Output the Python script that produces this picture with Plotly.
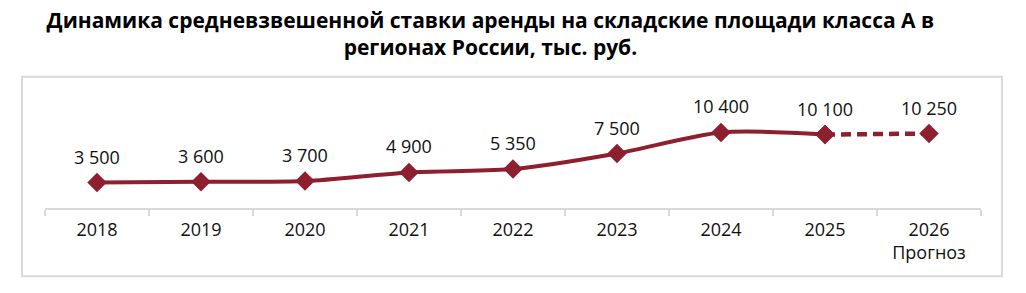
import plotly.graph_objects as go

years = ["2018", "2019", "2020", "2021", "2022", "2023", "2024", "2025", "2026<br>Прогноз"]
values = [3500, 3600, 3700, 4900, 5350, 7500, 10400, 10100, 10250]
labels = ["3 500", "3 600", "3 700", "4 900", "5 350", "7 500", "10 400", "10 100", "10 250"]

color = "#8E1F2F"
font = "Open Sans"

fig = go.Figure()
fig.add_trace(go.Scatter(
    x=years[:8], y=values[:8], mode="lines+markers",
    line=dict(color=color, width=4, shape="spline", smoothing=0.8),
    marker=dict(symbol="diamond", size=15, color=color),
    hoverinfo="skip", showlegend=False))
fig.add_trace(go.Scatter(
    x=years[7:], y=values[7:], mode="lines+markers",
    line=dict(color=color, width=4.5, dash="10px,6px"),
    marker=dict(symbol="diamond", size=15, color=color),
    hoverinfo="skip", showlegend=False))

for i, (y, t) in enumerate(zip(values, labels)):
    fig.add_annotation(x=i, y=y, text=t, showarrow=False, yshift=26,
                       font=dict(family=font, size=18, color="#111111"))

fig.add_shape(type="rect", xref="paper", yref="paper",
              x0=-0.0246, x1=1.0224, y0=-0.625, y1=1.2046,
              line=dict(color="#D9D9D9", width=2), fillcolor="rgba(0,0,0,0)", layer="below")

fig.update_layout(
    width=1026, height=293,
    margin=dict(l=45, r=45, t=99, b=85),
    paper_bgcolor="white", plot_bgcolor="white",
    title=dict(text="<b>Динамика средневзвешенной ставки аренды на складские площади класса А в<br>регионах России, тыс. руб.</b>",
               x=0.478, xanchor="center", y=0.904, yanchor="top",
               font=dict(family=font, size=21, color="#000000")),
    xaxis=dict(type="category", categoryorder="array", categoryarray=years,
               range=[-0.5, 8.5], showline=True, linecolor="#D9D9D9", linewidth=2,
               ticks="outside", tickson="boundaries", ticklen=6, tickcolor="#D9D9D9", tickwidth=2,
               showgrid=False, zeroline=False, tickangle=0, ticklabelstandoff=4,
               tickfont=dict(family=font, size=18, color="#111111")),
    yaxis=dict(range=[0, 15000], visible=False, showgrid=False, zeroline=False),
)

fig.write_html("out.html")
